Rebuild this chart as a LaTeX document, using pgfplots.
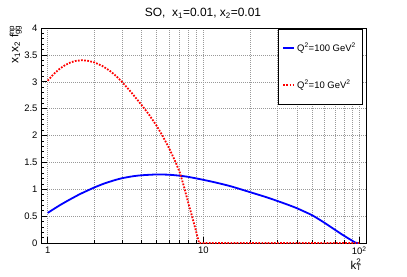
\documentclass[border=0pt]{standalone}
\usepackage{fontspec}
\setmainfont{Liberation Sans}
\usepackage{pgfplots}
\pgfplotsset{compat=1.18}
\begin{document}
\begin{tikzpicture}
\useasboundingbox (0bp,0bp) rectangle (407bp,277bp);
\begin{axis}[
 at={(41bp,34bp)}, anchor=south west,
 scale only axis, width=325bp, height=215bp,
 xmode=log, xmin=0.906, xmax=110.7, ymin=0, ymax=4,
 xtick={1,10,100}, xticklabels={1,10,10\textsuperscript{2}},
 ytick={0,0.5,...,4}, yticklabels={0,0.5,1,1.5,2,2.5,3,3.5,4},
 minor y tick num=4,
 tick align=inside, tick pos=left,
 major tick length=6bp, minor tick length=3bp,
 xmajorgrids, xminorgrids, ymajorgrids,
 grid style={gray!80, line width=0.5bp, dash pattern=on 1bp off 1bp},
 axis line style={line width=0.8bp},
 tick style={black, line width=0.6bp},
 ticklabel style={font=\fontsize{9.5}{11}\selectfont},
 clip=false,
 legend style={at={(0.988,0.995)}, anchor=north east, draw=black, line width=0.6bp, fill=white,
   font=\fontsize{9.5}{10}\selectfont, inner xsep=4bp, inner ysep=12bp, row sep=23bp},
 legend cell align=left,
 legend image code/.code={\draw[#1] (0bp,0bp) -- (11bp,0bp);},
]
\addplot[blue, line width=1.8bp, smooth, tension=0.4] coordinates {
(1,0.56) (1.14,0.665) (1.25,0.735) (1.4,0.815) (1.6,0.905) (1.8,0.975) (2,1.035) (2.3,1.105) (2.7,1.17) (3,1.205) (3.5,1.24) (4,1.26) (5,1.275) (6,1.27) (7,1.253) (8,1.23) (10,1.175) (12,1.125) (15,1.055) (20,0.945) (25,0.858) (30,0.78) (36,0.697) (40,0.645) (50,0.515) (60,0.375) (70,0.245) (80,0.135) (90,0.045) (95,0.005) (100,0)
};
\addlegendentry{Q\textsuperscript{2}=100 GeV\textsuperscript{2}}
\addplot[red, line width=1.8bp, dash pattern=on 1.7bp off 1.4bp] coordinates {
(1,3.02) (1.1,3.15) (1.2,3.246) (1.3,3.313) (1.4,3.358) (1.5,3.386) (1.65,3.40) (1.8,3.392) (2,3.359) (2.25,3.292) (2.5,3.206) (2.75,3.107) (3,3.00) (3.47,2.79) (3.98,2.58) (4.47,2.39) (5.01,2.18) (5.5,1.98) (6.03,1.76) (6.64,1.50) (7.08,1.30) (7.52,1.04) (7.94,0.78) (8.41,0.52) (8.91,0.25) (9.38,0) (100,0)
};
\addlegendentry{Q\textsuperscript{2}=10 GeV\textsuperscript{2}}
\end{axis}
\node[font=\fontsize{12}{14}\selectfont] at (203bp,264bp) {SO,\ \ x\textsubscript{1}=0.01, x\textsubscript{2}=0.01};
\node[rotate=90, anchor=south east, inner sep=0pt, font=\fontsize{12}{14}\selectfont] at (22bp,252bp) {x\textsubscript{1}x\textsubscript{2} f\rlap{\textsuperscript{np}}\textsubscript{gg}};
\node[anchor=north east, inner sep=0pt, font=\fontsize{11.5}{13}\selectfont] at (367bp,18bp) {k\rlap{\textsuperscript{2}}\textsubscript{T}\hphantom{\textsuperscript{2}}};
\end{tikzpicture}
\end{document}
